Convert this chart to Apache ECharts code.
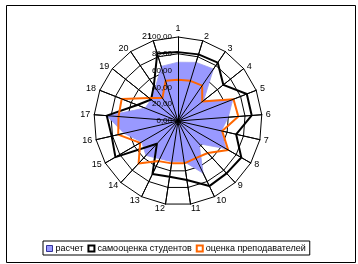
<!DOCTYPE html>
<html><head><meta charset="utf-8">
<script src="https://cdn.jsdelivr.net/npm/echarts/dist/echarts.min.js"></script>
<style>html,body{margin:0;padding:0;background:#fff}#c{width:358px;height:264px}</style>
</head><body><div id="c"></div>
<script>
const categories = ['1','2','3','4','5','6','7','8','9','10','11','12','13','14','15','16','17','18','19','20','21'];
const raschet    = [70, 73, 75, 39, 70, 60, 53, 66, 37, 69, 49, 49, 50, 56, 50, 66, 85, 42, 41, 48, 68];
const samoocenka = [82, 83, 84, 69, 88, 88, 71, 87, 85, 86, 71, 67, 70, 37, 86, 81, 85, 52, 41, 51, 84];
const ocenka     = [49, 50, 51, 37, 71, 72, 54, 69, 52, 49, 51, 51, 53, 69, 52, 73, 71, 72, 44, 33, 50];
const tickLabels = ['0,00','20,00','40,00','60,00','80,00','100,00'];
const seriesNames = ['расчет','самооценка студентов','оценка преподавателей'];

const FONT = 'Arial, "Liberation Sans", sans-serif';
const center = [178, 121];
const radius = 84;

// ECharts radar runs counter-clockwise; reorder so categories run clockwise.
const order = [0].concat(categories.map((_, i) => i).slice(1).reverse());
const reorder = arr => order.map(i => arr[i]);

const chart = echarts.init(document.getElementById('c'));
const indBase = reorder(categories).map(c => ({ name: c, min: 0, max: 100 }));
const indTop = reorder(categories).map((c, i) => {
  const o = { name: c, min: 0, max: 100 };
  if (i === 0) o.axisLabel = { show: true };
  return o;
});

chart.setOption({
  animation: false,
  backgroundColor: '#fff',
  graphic: [{
    type: 'rect', left: 4, top: 3, z: 100,
    shape: { width: 349, height: 257 },
    style: { fill: null, stroke: '#000', lineWidth: 1 }
  }],
  legend: {
    left: 43, top: 241,
    orient: 'horizontal',
    padding: [3, 4, 2, 3],
    itemGap: 4,
    itemWidth: 6, itemHeight: 6,
    borderColor: '#000', borderWidth: 1,
    icon: 'rect',
    textStyle: { fontSize: 9, fontFamily: FONT, color: '#000', padding: [0, 0, 0, -2] },
    data: [
      { name: seriesNames[0], itemStyle: { color: '#9999ff', borderColor: '#333399', borderWidth: 1 } },
      { name: seriesNames[1], itemStyle: { color: '#fff', borderColor: '#000', borderWidth: 2 } },
      { name: seriesNames[2], itemStyle: { color: '#fff', borderColor: '#ff6600', borderWidth: 2 } }
    ]
  },
  radar: [{
    center: center, radius: radius, shape: 'polygon', splitNumber: 5, startAngle: 90,
    indicator: indBase,
    axisName: { color: '#000', fontSize: 9, fontFamily: FONT },
    nameGap: 4,
    splitLine: { lineStyle: { color: '#000', width: 1 } },
    splitArea: { show: false },
    axisLine: { lineStyle: { color: '#000', width: 1 } },
    axisTick: { show: false },
    axisLabel: { show: false }
  }, {
    center: center, radius: radius, shape: 'polygon', splitNumber: 5, startAngle: 90, z: 5,
    indicator: indTop,
    axisName: { show: false },
    splitLine: { show: false },
    splitArea: { show: false },
    axisLine: { lineStyle: { color: '#000', width: 1 } },
    axisTick: { show: false },
    axisLabel: {
      show: false, margin: 6, fontSize: 8, fontFamily: FONT, color: '#000',
      showMinLabel: true, showMaxLabel: true,
      formatter: v => tickLabels[Math.round(v / 20)]
    }
  }],
  series: [{
    type: 'radar', radarIndex: 0, symbol: 'none', z: 2,
    data: [{
      name: seriesNames[0], value: reorder(raschet),
      lineStyle: { color: '#6666cc', width: 0.5 },
      areaStyle: { color: '#9999ff', opacity: 1 },
      itemStyle: { color: '#9999ff' }
    }]
  }, {
    type: 'radar', radarIndex: 0, symbol: 'none', z: 3,
    data: [{
      name: seriesNames[1], value: reorder(samoocenka),
      lineStyle: { color: '#000', width: 2 },
      itemStyle: { color: '#000' }
    }]
  }, {
    type: 'radar', radarIndex: 0, symbol: 'none', z: 4,
    data: [{
      name: seriesNames[2], value: reorder(ocenka),
      lineStyle: { color: '#ff6600', width: 2 },
      itemStyle: { color: '#ff6600' }
    }]
  }]
});
</script></body></html>
